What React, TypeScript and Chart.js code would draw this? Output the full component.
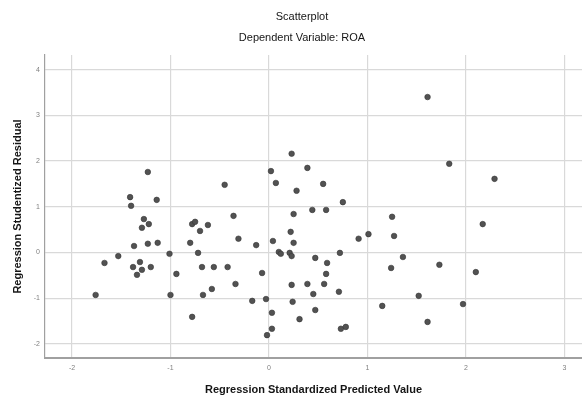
import React, { useEffect, useRef } from "react";
import { Chart, registerables } from "chart.js";

Chart.register(...registerables);

const chartTitle = "Scatterplot";
const chartSubtitle = "Dependent Variable: ROA";
const xTitle = "Regression Standardized Predicted Value";
const yTitle = "Regression Studentized Residual";

const predicted = [
  -1.23, 0.23, 0.02, 0.39, 0.07, 0.55, -0.45, 1.61, 1.83, 2.29,
  -1.41, -1.4, -1.14, -1.27, -1.22, -1.29, -1.37, -1.23, -1.13, -1.53,
  -1.67, -1.01, -1.38, -1.31, -1.29, -1.2, -1.34, -0.94, -1.76, -1.0,
  -0.78, -0.75, -0.62, -0.7, -0.8, -0.72, -0.68, -0.56, -0.58, -0.67,
  -0.78, 0.28, 0.75, -0.36, 0.44, 0.58, 0.25, 0.22, -0.31, -0.13,
  0.04, 0.25, 0.91, 1.01, 0.1, 0.12, 0.21, 0.23, 0.72, 0.47,
  0.59, -0.42, -0.07, 0.58, -0.34, 0.23, 0.39, 0.56, 0.45, 0.71,
  -0.17, -0.03, 0.24, 1.15, 0.03, 0.47, 0.31, 0.73, 0.78, 1.25,
  2.17, 1.27, 1.36, 1.24, 1.73, 2.1, 1.52, 1.97, 1.61, 0.03,
  -0.02,
];

const residuals = [
  1.76, 2.16, 1.78, 1.85, 1.52, 1.5, 1.48, 3.4, 1.94, 1.61,
  1.21, 1.02, 1.15, 0.73, 0.62, 0.54, 0.14, 0.19, 0.21, -0.08,
  -0.23, -0.03, -0.32, -0.21, -0.38, -0.32, -0.49, -0.47, -0.93, -0.93,
  0.62, 0.67, 0.6, 0.47, 0.21, -0.01, -0.32, -0.32, -0.8, -0.93,
  -1.41, 1.35, 1.1, 0.8, 0.93, 0.93, 0.84, 0.45, 0.3, 0.16,
  0.25, 0.21, 0.3, 0.4, 0.01, -0.03, -0.01, -0.08, -0.01, -0.12,
  -0.23, -0.32, -0.45, -0.47, -0.69, -0.71, -0.69, -0.69, -0.91, -0.86,
  -1.06, -1.02, -1.08, -1.17, -1.32, -1.26, -1.46, -1.67, -1.63, 0.78,
  0.62, 0.36, -0.1, -0.34, -0.27, -0.43, -0.95, -1.13, -1.52, -1.67,
  -1.81,
];

const xRange = [-2.274, 3.178];
const yRange = [-2.31, 4.32];

const FONT = "'Liberation Sans', Arial, sans-serif";

const titlePlugin = {
  id: "topTitles",
  afterDraw(chart: any) {
    const ctx = chart.ctx;
    ctx.save();
    ctx.fillStyle = "#151515";
    ctx.textAlign = "center";
    ctx.textBaseline = "middle";
    ctx.font = `11px ${FONT}`;
    ctx.fillText(chartTitle, 302, 17);
    ctx.fillText(chartSubtitle, 302, 38);
    ctx.restore();
  },
};

export default function App() {
  const ref = useRef<HTMLCanvasElement | null>(null);

  useEffect(() => {
    if (!ref.current) return;
    const data = predicted.map((x, i) => ({ x, y: residuals[i] }));
    const chart = new Chart(ref.current, {
      type: "scatter",
      data: {
        datasets: [
          {
            data,
            backgroundColor: "#525252",
            borderColor: "#363636",
            borderWidth: 0.6,
            pointRadius: 2.8,
          },
        ],
      },
      plugins: [titlePlugin],
      options: {
        animation: false,
        responsive: false,
        layout: { autoPadding: false, padding: { top: 55, left: 0, right: 0, bottom: 0 } },
        plugins: {
          legend: { display: false },
          tooltip: { enabled: false },
          title: { display: false },
        },
        scales: {
          x: {
            type: "linear",
            min: xRange[0],
            max: xRange[1],
            afterFit: (s: any) => {
              s.height = 42;
            },
            ticks: {
              stepSize: 1,
              includeBounds: false,
              padding: 6,
              color: "#808080",
              font: { family: FONT, size: 7 },
              callback: (v: any) => String(Math.round(Number(v))),
            },
            grid: { color: "#d9d9d9", lineWidth: 1.2, drawTicks: false },
            border: { display: true, color: "#a0a0a0", width: 2 },
            title: {
              display: true,
              text: xTitle,
              color: "#151515",
              font: { family: FONT, size: 11, weight: "bold" },
              padding: { top: 0, bottom: 3 },
            },
          },
          y: {
            type: "linear",
            min: yRange[0],
            max: yRange[1],
            afterFit: (s: any) => {
              s.width = 45;
            },
            ticks: {
              stepSize: 1,
              includeBounds: false,
              padding: 5,
              color: "#808080",
              font: { family: FONT, size: 7 },
              callback: (v: any) => String(Math.round(Number(v))),
            },
            grid: { color: "#d9d9d9", lineWidth: 1.2, drawTicks: false },
            border: { display: true, color: "#a0a0a0", width: 1.2 },
            title: {
              display: true,
              text: yTitle,
              color: "#151515",
              font: { family: FONT, size: 11, weight: "bold" },
              padding: { top: 11, bottom: 0 },
            },
          },
        },
      },
    } as any);
    return () => chart.destroy();
  }, []);

  return (
    <div style={{ position: "fixed", left: 0, top: 0, width: 582, height: 400, background: "#fff" }}>
      <canvas ref={ref} width={582} height={400} style={{ display: "block" }} />
    </div>
  );
}
